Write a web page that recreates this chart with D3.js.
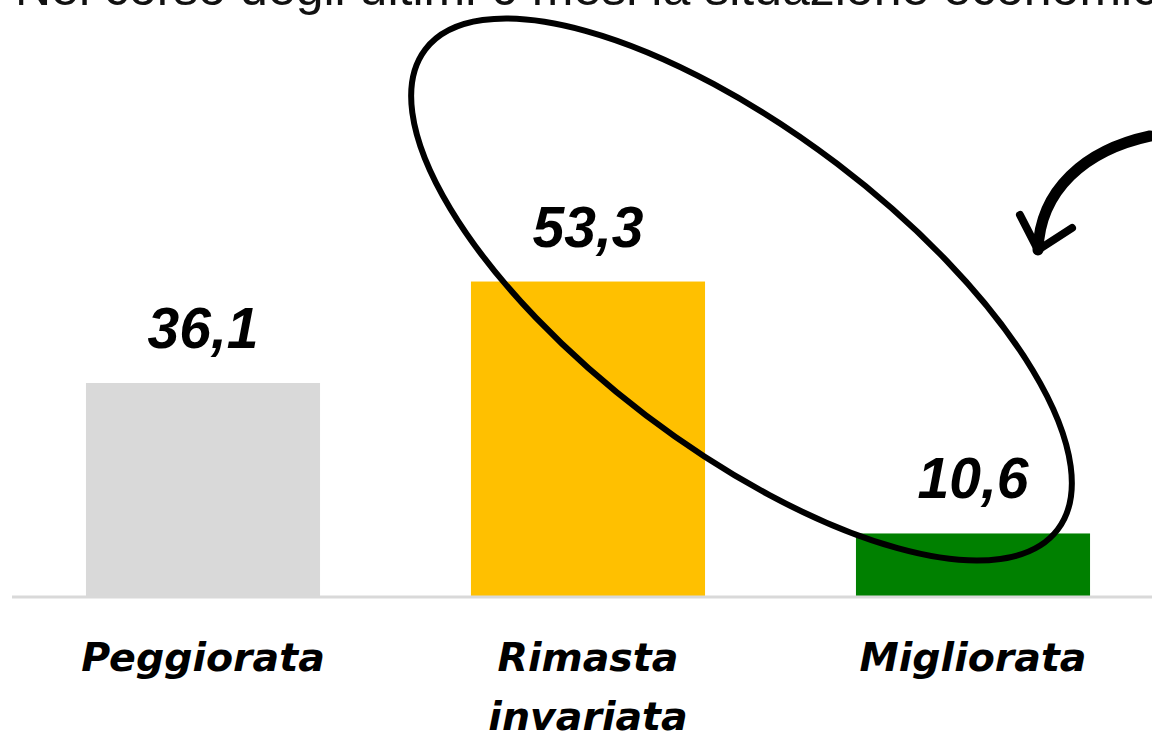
<!DOCTYPE html>
<html>
<head>
<meta charset="utf-8">
<script src="https://cdn.jsdelivr.net/npm/d3@7"></script>
<style>
  html, body { margin: 0; padding: 0; background: #fff; }
  svg { display: block; }
</style>
</head>
<body>
<script>
var titleText = 'Nel corso degli ultimi 6 mesi la situazione economica'
var categories = ['Peggiorata', 'Rimasta invariata', 'Migliorata']
var labelLines = [['Peggiorata'], ['Rimasta', 'invariata'], ['Migliorata']]
var values = [36.1, 53.3, 10.6]
var colors = ['#d9d9d9', '#ffc000', '#008000']

var width = 1152, height = 735

var svg = d3.select('body').append('svg')
  .attr('width', width)
  .attr('height', height)

var x = d3.scaleBand()
  .domain(categories)
  .range([10.5, 1165.5])
  .paddingInner(0.392)
  .paddingOuter(0.196)

var y = d3.scaleLinear()
  .domain([0, 100])
  .range([596, 6])

// title, cut off by the top edge as in the source slide
svg.append('text')
  .attr('x', 15)
  .attr('y', 5)
  .attr('font-family', 'Liberation Sans, sans-serif')
  .attr('font-size', 50)
  .attr('fill', '#111')
  .text(titleText)

svg.selectAll('rect.bar')
  .data(values)
  .enter()
  .append('rect')
  .attr('class', 'bar')
  .attr('x', function (d, i) { return x(categories[i]) })
  .attr('width', x.bandwidth())
  .attr('y', function (d) { return y(d) })
  .attr('height', function (d) { return y(0) - y(d) })
  .attr('fill', function (d, i) { return colors[i] })

// baseline
svg.append('line')
  .attr('x1', 12).attr('x2', width)
  .attr('y1', y(0) + 1).attr('y2', y(0) + 1)
  .attr('stroke', '#d9d9d9')
  .attr('stroke-width', 3)

svg.selectAll('text.val')
  .data(values)
  .enter()
  .append('text')
  .attr('class', 'val')
  .attr('x', function (d, i) { return x(categories[i]) + x.bandwidth() / 2 })
  .attr('y', function (d) { return y(d) - 35 })
  .attr('text-anchor', 'middle')
  .attr('font-family', 'Liberation Sans, sans-serif')
  .attr('font-weight', 'bold')
  .attr('font-style', 'italic')
  .attr('font-size', 57)
  .attr('fill', '#000')
  .text(function (d) { return d3.format('.1f')(d).replace('.', ',') })

var cat = svg.selectAll('text.cat')
  .data(labelLines)
  .enter()
  .append('text')
  .attr('class', 'cat')
  .attr('text-anchor', 'middle')
  .attr('font-family', 'DejaVu Sans, sans-serif')
  .attr('font-weight', 'bold')
  .attr('font-style', 'oblique')
  .attr('font-size', 39.5)
  .attr('fill', '#000')

cat.selectAll('tspan')
  .data(function (d, i) {
    return d.map(function (t) { return {t: t, c: categories[i]} })
  })
  .enter()
  .append('tspan')
  .attr('x', function (d) { return x(d.c) + x.bandwidth() / 2 })
  .attr('y', function (d, j) { return y(0) + 75 + j * 59 })
  .text(function (d) { return d.t })

// hand-drawn annotation: ellipse round the last two bars, and a curved arrow
svg.append('ellipse')
  .attr('cx', 741.5)
  .attr('cy', 289.5)
  .attr('rx', 397)
  .attr('ry', 158)
  .attr('transform', 'rotate(37.2 741.5 289.5)')
  .attr('fill', 'none')
  .attr('stroke', '#000')
  .attr('stroke-width', 6)

svg.append('path')
  .attr('d', 'M1150,136 C1085,150 1040,190 1038,250')
  .attr('fill', 'none')
  .attr('stroke', '#000')
  .attr('stroke-width', 11)
  .attr('stroke-linecap', 'round')

svg.append('path')
  .attr('d', 'M1020,215 L1038,250 L1072,228')
  .attr('fill', 'none')
  .attr('stroke', '#000')
  .attr('stroke-width', 8)
  .attr('stroke-linecap', 'round')
  .attr('stroke-linejoin', 'round')
</script>
</body>
</html>
